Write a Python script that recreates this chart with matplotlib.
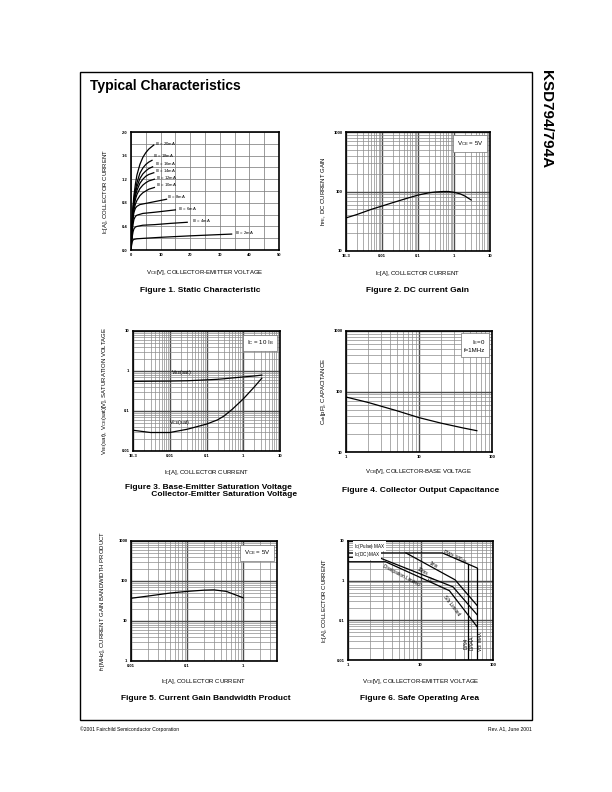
import numpy as np
import matplotlib
matplotlib.use("Agg")
import matplotlib.pyplot as plt
from matplotlib.patches import Rectangle
from matplotlib.ticker import FixedLocator, FixedFormatter, LogLocator, NullFormatter

plt.rcParams['font.family'] = ['Liberation Sans', 'DejaVu Sans']
plt.rcParams['mathtext.fontset'] = 'custom'
plt.rcParams['mathtext.rm'] = 'Liberation Sans'
plt.rcParams['mathtext.it'] = 'Liberation Sans'

# ---- Figure 1: static characteristic (VCE [V], IC [A]) ----
ib_labels = ['20mA', '18mA', '16mA', '14mA', '12mA', '10mA', '8mA', '6mA', '4mA', '2mA']
v_2ma = [0, 0.2, 0.4, 0.7, 1.0, 2, 5, 10, 20, 34]
i_2ma = [0, 0.08, 0.14, 0.17, 0.18, 0.19, 0.2, 0.215, 0.24, 0.27]
v_4ma = [0, 0.2, 0.4, 0.7, 1.0, 1.5, 2, 4, 8, 13, 19]
i_4ma = [0, 0.12, 0.22, 0.31, 0.36, 0.39, 0.40, 0.42, 0.43, 0.45, 0.47]
v_6ma = [0, 0.2, 0.4, 0.7, 1.0, 1.5, 2, 4, 8, 15]
i_6ma = [0, 0.15, 0.3, 0.44, 0.52, 0.57, 0.59, 0.62, 0.64, 0.68]
v_8ma = [0, 0.2, 0.4, 0.7, 1.0, 1.5, 2, 3, 5, 8, 12]
i_8ma = [0, 0.18, 0.36, 0.54, 0.64, 0.71, 0.74, 0.77, 0.79, 0.82, 0.86]
v_hi = [0, 0.2, 0.4, 0.7, 1.0, 1.5, 2, 3, 4, 5, 6]
v_end = [7.7, 7.1, 7.3, 7.7, 7.9, 7.9]  # 20,18,16,14,12,10 mA
i_20ma = [0, 0.25, 0.5, 0.76, 0.93, 1.12, 1.27, 1.45, 1.57, 1.65, 1.71, 1.78]
i_18ma = [0, 0.24, 0.48, 0.71, 0.86, 1.02, 1.14, 1.30, 1.39, 1.45, 1.49, 1.52]
i_16ma = [0, 0.23, 0.46, 0.68, 0.82, 0.97, 1.07, 1.21, 1.29, 1.34, 1.38, 1.41]
i_14ma = [0, 0.22, 0.44, 0.65, 0.78, 0.92, 1.01, 1.13, 1.20, 1.25, 1.28, 1.31]
i_12ma = [0, 0.21, 0.42, 0.62, 0.74, 0.86, 0.94, 1.04, 1.10, 1.14, 1.17, 1.20]
i_10ma = [0, 0.20, 0.40, 0.58, 0.68, 0.78, 0.84, 0.92, 0.97, 1.00, 1.03, 1.06]
# label anchor (V, I) for each IB curve
lab_v = [8.0, 7.4, 8.2, 8.2, 8.6, 8.6, 12.3, 15.8, 20.6, 35.0]
lab_i = [1.80, 1.59, 1.46, 1.34, 1.22, 1.10, 0.89, 0.70, 0.49, 0.28]

# ---- Figure 2: DC current gain ----
ic2 = [0.001, 0.002, 0.005, 0.01, 0.02, 0.05, 0.1, 0.2, 0.3, 0.5, 0.7, 1, 1.5, 2, 3]
hfe2 = [36, 41, 50, 57, 65, 77, 87, 95, 98, 100, 100, 97, 91, 84, 72]

# ---- Figure 3: saturation voltages ----
ic3 = [0.001, 0.003, 0.01, 0.03, 0.1, 0.2, 0.3, 0.5, 1, 2, 3.2]
vbe3 = [0.55, 0.555, 0.56, 0.57, 0.6, 0.62, 0.64, 0.67, 0.71, 0.75, 0.79]
vce3 = [0.033, 0.029, 0.029, 0.035, 0.047, 0.06, 0.075, 0.11, 0.2, 0.4, 0.66]

# ---- Figure 4: collector output capacitance ----
vcb4 = [1, 2, 5, 10, 20, 40, 62]
cob4 = [81, 66, 48, 37, 30, 25, 22.5]

# ---- Figure 5: current gain bandwidth product ----
ic5 = [0.01, 0.02, 0.05, 0.1, 0.2, 0.3, 0.5, 1]
ft5 = [37, 42, 50, 55, 59, 60, 55, 38]

# ---- Figure 6: safe operating area ----
pulse_v = [1, 20, 60]
pulse_i = [5, 5, 2.1]
ms1_v = [6.3, 30, 60]
ms1_i = [5, 1.05, 0.24]
ms10_v = [1, 2.6, 28, 60]
ms10_i = [3.9, 3.9, 0.7, 0.14]
dc_v = [1, 3.3, 25, 60]
dc_i = [3, 3, 0.56, 0.07]
d794_v, d794_top = 45, 2.6
d794a_v, d794a_top = 60, 2.1

W, H = 612, 792
fig = plt.figure(figsize=(W / 100, H / 100), dpi=100)


def add_ax(l, t, r, b):
    ax = fig.add_axes([l / W, 1 - b / H, (r - l) / W, (b - t) / H])
    ax._px = (r - l, b - t)
    return ax


def style(ax, xoff=17, yoff=20):
    for sp in ax.spines.values():
        sp.set_linewidth(1.2)
    ax.tick_params(which='both', length=0, labelsize=3, pad=2.5)
    for lab in ax.get_xticklabels() + ax.get_yticklabels():
        lab.set_fontweight('bold')
    ax.set_axisbelow(True)
    w, h = ax._px
    ax.xaxis.set_label_coords(0.5, -xoff / h)
    ax.yaxis.set_label_coords(-yoff / w, 0.5)


def log_grid(ax):
    ax.xaxis.set_minor_locator(LogLocator(base=10, subs=np.arange(2, 10)))
    ax.yaxis.set_minor_locator(LogLocator(base=10, subs=np.arange(2, 10)))
    ax.xaxis.set_minor_formatter(NullFormatter())
    ax.yaxis.set_minor_formatter(NullFormatter())
    ax.grid(which='major', color='0.3', lw=1.0)
    ax.grid(which='minor', color='0.55', lw=0.5)


def ticks(ax, xt, xl, yt, yl):
    ax.xaxis.set_major_locator(FixedLocator(xt))
    ax.xaxis.set_major_formatter(FixedFormatter(xl))
    ax.yaxis.set_major_locator(FixedLocator(yt))
    ax.yaxis.set_major_formatter(FixedFormatter(yl))


def boxtext(ax, s):
    ax.text(0.955, 0.94, s, transform=ax.transAxes, ha='right', va='top', fontsize=4.4,
            linespacing=1.3,
            bbox=dict(boxstyle='square,pad=0.6', fc='white', ec='0.45', lw=0.5))


LBL = 4.3
CAP = dict(fontsize=6.0, fontweight='bold', ha='center', va='center')

# Figure 1
ax1 = add_ax(131, 132, 279, 250)
ax1.set_xlim(0, 50)
ax1.set_ylim(0, 2.0)
ticks(ax1, [0, 10, 20, 30, 40, 50], ['0', '10', '20', '30', '40', '50'],
      [0, 0.4, 0.8, 1.2, 1.6, 2.0], ['0.0', '0.4', '0.8', '1.2', '1.6', '2.0'])
ax1.xaxis.set_minor_locator(FixedLocator(np.arange(5, 50, 10)))
ax1.yaxis.set_minor_locator(FixedLocator(np.arange(0.2, 2.0, 0.4)))
ax1.grid(which='both', color='0.5', lw=0.55)
hi_sets = [i_20ma, i_18ma, i_16ma, i_14ma, i_12ma, i_10ma]
for ve, ii in zip(v_end, hi_sets):
    ax1.plot(v_hi + [ve], ii, color='k', lw=0.9)
for vv, ii in [(v_8ma, i_8ma), (v_6ma, i_6ma), (v_4ma, i_4ma), (v_2ma, i_2ma)]:
    ax1.plot(vv, ii, color='k', lw=0.9)
for s, x, y in zip(ib_labels, lab_v, lab_i):
    ax1.text(x, y, 'I$_B$ = ' + s, fontsize=3.1, ha='left', va='center')
ax1.set_xlabel('V$_{CE}$[V], COLLECTOR-EMITTER VOLTAGE', fontsize=LBL)
ax1.set_ylabel('I$_C$[A], COLLECTOR CURRENT', fontsize=LBL)
style(ax1, 18, 21)

# Figure 2
ax2 = add_ax(346, 132, 490, 251)
ax2.set_xscale('log')
ax2.set_yscale('log')
ax2.set_xlim(1e-3, 10)
ax2.set_ylim(10, 1000)
log_grid(ax2)
ticks(ax2, [1e-3, 1e-2, 0.1, 1, 10], ['1E-3', '0.01', '0.1', '1', '10'],
      [10, 100, 1000], ['10', '100', '1000'])
ax2.plot(ic2, hfe2, color='k', lw=0.9)
boxtext(ax2, 'V$_{CE}$ = 5V')
ax2.set_xlabel('I$_C$[A], COLLECTOR CURRENT', fontsize=LBL)
ax2.set_ylabel('h$_{FE}$, DC CURRENT GAIN', fontsize=LBL)
style(ax2, 18, 18)

# Figure 3
ax3 = add_ax(133, 331, 280, 451)
ax3.set_xscale('log')
ax3.set_yscale('log')
ax3.set_xlim(1e-3, 10)
ax3.set_ylim(0.01, 10)
log_grid(ax3)
ticks(ax3, [1e-3, 1e-2, 0.1, 1, 10], ['1E-3', '0.01', '0.1', '1', '10'],
      [0.01, 0.1, 1, 10], ['0.01', '0.1', '1', '10'])
ax3.plot(ic3, vbe3, color='k', lw=0.9)
ax3.plot(ic3, vce3, color='k', lw=0.9)
ax3.text(0.0105, 0.72, 'V$_{BE}$(sat)', fontsize=3.8, ha='left', va='bottom')
ax3.text(0.0095, 0.052, 'V$_{CE}$(sat)', fontsize=3.8, ha='left', va='center')
boxtext(ax3, 'I$_C$ = 10 I$_B$')
ax3.set_xlabel('I$_C$[A], COLLECTOR CURRENT', fontsize=LBL)
ax3.set_ylabel('V$_{BE}$(sat), V$_{CE}$(sat)[V], SATURATION VOLTAGE', fontsize=LBL)
style(ax3, 17, 24)

# Figure 4
ax4 = add_ax(346, 331, 492, 452)
ax4.set_xscale('log')
ax4.set_yscale('log')
ax4.set_xlim(1, 100)
ax4.set_ylim(10, 1000)
log_grid(ax4)
ticks(ax4, [1, 10, 100], ['1', '10', '100'], [10, 100, 1000], ['10', '100', '1000'])
ax4.plot(vcb4, cob4, color='k', lw=0.9)
boxtext(ax4, 'I$_E$=0\nf=1MHz')
ax4.set_xlabel('V$_{CB}$[V], COLLECTOR-BASE VOLTAGE', fontsize=LBL)
ax4.set_ylabel('C$_{ob}$[pF], CAPACITANCE', fontsize=LBL)
style(ax4, 15, 18)

# Figure 5
ax5 = add_ax(131, 541, 277, 661)
ax5.set_xscale('log')
ax5.set_yscale('log')
ax5.set_xlim(0.01, 4)
ax5.set_ylim(1, 1000)
log_grid(ax5)
ticks(ax5, [0.01, 0.1, 1], ['0.01', '0.1', '1'], [1, 10, 100, 1000], ['1', '10', '100', '1000'])
ax5.plot(ic5, ft5, color='k', lw=0.9)
boxtext(ax5, 'V$_{CE}$ = 5V')
ax5.set_xlabel('I$_C$[A], COLLECTOR CURRENT', fontsize=LBL)
ax5.set_ylabel('f$_T$[MHz], CURRENT GAIN BANDWIDTH PRODUCT', fontsize=LBL)
style(ax5, 16, 24)

# Figure 6
ax6 = add_ax(348, 541, 493, 660)
ax6.set_xscale('log')
ax6.set_yscale('log')
ax6.set_xlim(1, 100)
ax6.set_ylim(0.01, 10)
log_grid(ax6)
ticks(ax6, [1, 10, 100], ['1', '10', '100'], [0.01, 0.1, 1, 10], ['0.01', '0.1', '1', '10'])
for vv, ii in [(pulse_v, pulse_i), (ms1_v, ms1_i), (ms10_v, ms10_i), (dc_v, dc_i)]:
    ax6.plot(vv, ii, color='k', lw=0.9)
ax6.plot([d794_v, d794_v], [0.01, d794_top], color='k', lw=0.9)
ax6.plot([d794a_v, d794a_v], [0.01, d794a_top], color='k', lw=0.9)
TB = dict(fc='white', ec='none', pad=0.2)
ax6.text(1.2, 7.4, 'I$_C$(Pulse) MAX', fontsize=3.3, ha='left', va='center', bbox=TB)
ax6.text(1.2, 4.45, 'I$_C$(DC) MAX', fontsize=3.3, ha='left', va='center', bbox=TB)
ax6.text(30, 3.9, 'PW= 100us', fontsize=3.4, rotation=-25, ha='center', va='center')
ax6.text(15, 2.5, '1ms', fontsize=3.4, rotation=-28, ha='center', va='center')
ax6.text(10.5, 1.7, '10ms', fontsize=3.4, rotation=-28, ha='center', va='center')
ax6.text(13.5, 1.0, 'DC', fontsize=3.4, rotation=-28, ha='center', va='center')
ax6.text(5.4, 1.35, 'Dissipation Limited', fontsize=3.4, rotation=-28, ha='center', va='center')
ax6.text(27, 0.24, 'S/b Limited', fontsize=3.4, rotation=-52, ha='center', va='center')
ax6.text(42.3, 0.027, 'D794', fontsize=3.4, rotation=90, ha='center', va='center')
ax6.text(52, 0.027, 'D794A', fontsize=3.4, rotation=90, ha='center', va='center')
ax6.text(67, 0.03, 'V$_{CE}$ MAX', fontsize=3.4, rotation=90, ha='center', va='center')
ax6.set_xlabel('V$_{CE}$[V], COLLECTOR-EMITTER VOLTAGE', fontsize=LBL)
ax6.set_ylabel('I$_C$[A], COLLECTOR CURRENT', fontsize=LBL)
style(ax6, 17, 19)

# page furniture
fig.patches.append(Rectangle((80 / W, 1 - 720 / H), (532 - 80) / W, (720 - 72) / H,
                             transform=fig.transFigure, fill=False, lw=1.0, ec='k'))
fig.text(90 / W, 1 - 86 / H, 'Typical Characteristics', fontsize=10, fontweight='bold',
         ha='left', va='center')
fig.text(546 / W, 1 - 70 / H, 'KSD794/794A', fontsize=11, fontweight='bold', rotation=-90,
         ha='center', va='top')
fig.text(200 / W, 1 - 291 / H, 'Figure 1. Static Characteristic', **CAP)
fig.text(418 / W, 1 - 291 / H, 'Figure 2. DC current Gain', **CAP)
fig.text(208 / W, 1 - 491 / H, 'Figure 3. Base-Emitter Saturation Voltage\n'
         '              Collector-Emitter Saturation Voltage', linespacing=1.05, **CAP)
fig.text(421 / W, 1 - 491 / H, 'Figure 4. Collector Output Capacitance', **CAP)
fig.text(206 / W, 1 - 699 / H, 'Figure 5. Current Gain Bandwidth Product', **CAP)
fig.text(420 / W, 1 - 699 / H, 'Figure 6. Safe Operating Area', **CAP)
fig.text(80 / W, 1 - 729 / H, '\u00a92001 Fairchild Semiconductor Corporation', fontsize=3.6,
         ha='left', va='center')
fig.text(532 / W, 1 - 729 / H, 'Rev. A1, June 2001', fontsize=3.6, ha='right', va='center')

fig.savefig('out.png', dpi=100)
